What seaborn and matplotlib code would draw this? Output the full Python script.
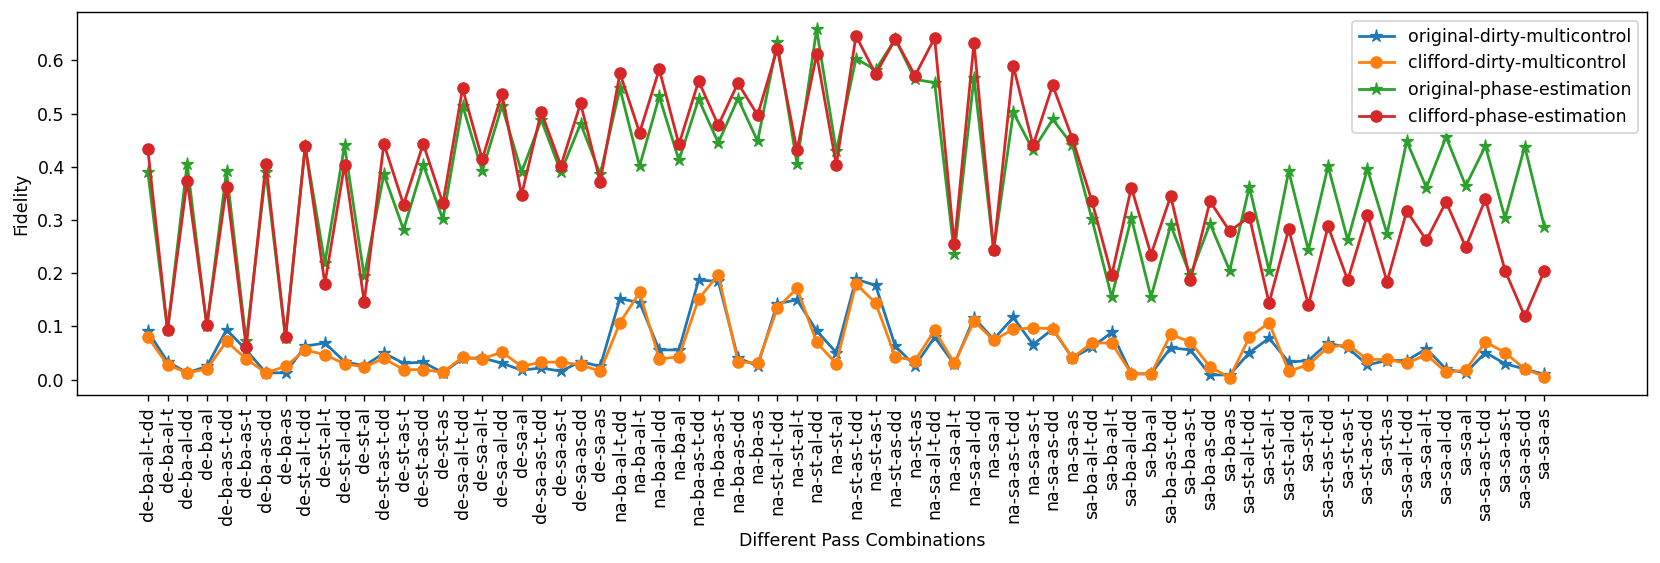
import itertools
import numpy as np
import pandas as pd
import seaborn as sns
import matplotlib.pyplot as plt

#% ===============================
# pass combinations on the x axis
first = ['de', 'na', 'sa']
second = ['ba', 'st', 'sa']
third = ['al', 'as']
suffix = ['-t-dd', '-t', '-dd', '']
passes = [f'{a}-{b}-{c}{d}' for a, b, c, d in itertools.product(first, second, third, suffix)]

# fidelity values
orig_dirty = [0.091, 0.034, 0.013, 0.025, 0.094, 0.056, 0.013, 0.013,
              0.063, 0.069, 0.034, 0.026, 0.050, 0.031, 0.033, 0.013,
              0.040, 0.041, 0.031, 0.018, 0.022, 0.016, 0.034, 0.025,
              0.152, 0.145, 0.056, 0.056, 0.187, 0.185, 0.041, 0.026,
              0.143, 0.150, 0.092, 0.051, 0.189, 0.177, 0.063, 0.026,
              0.080, 0.029, 0.116, 0.076, 0.117, 0.066, 0.095, 0.041,
              0.061, 0.089, 0.011, 0.011, 0.060, 0.056, 0.009, 0.009,
              0.051, 0.078, 0.033, 0.036, 0.069, 0.060, 0.028, 0.036,
              0.036, 0.058, 0.020, 0.013, 0.051, 0.030, 0.020, 0.010]
cliff_dirty = [0.080, 0.028, 0.013, 0.020, 0.072, 0.039, 0.013, 0.025,
               0.056, 0.047, 0.030, 0.024, 0.040, 0.019, 0.019, 0.014,
               0.042, 0.039, 0.052, 0.025, 0.033, 0.033, 0.028, 0.016,
               0.107, 0.164, 0.039, 0.043, 0.152, 0.197, 0.034, 0.031,
               0.134, 0.172, 0.070, 0.030, 0.180, 0.144, 0.043, 0.036,
               0.093, 0.031, 0.110, 0.074, 0.095, 0.097, 0.096, 0.041,
               0.069, 0.069, 0.011, 0.011, 0.085, 0.071, 0.024, 0.004,
               0.080, 0.107, 0.016, 0.028, 0.061, 0.066, 0.038, 0.038,
               0.031, 0.047, 0.014, 0.018, 0.071, 0.051, 0.020, 0.006]
orig_phase = [0.390, 0.093, 0.406, 0.100, 0.392, 0.072, 0.390, 0.078,
              0.439, 0.219, 0.440, 0.194, 0.386, 0.282, 0.404, 0.301,
              0.515, 0.392, 0.514, 0.390, 0.488, 0.390, 0.481, 0.386,
              0.547, 0.401, 0.532, 0.412, 0.527, 0.445, 0.528, 0.448,
              0.634, 0.406, 0.658, 0.429, 0.603, 0.582, 0.640, 0.564,
              0.558, 0.236, 0.567, 0.243, 0.502, 0.431, 0.489, 0.441,
              0.301, 0.155, 0.304, 0.155, 0.290, 0.196, 0.293, 0.205,
              0.362, 0.205, 0.392, 0.243, 0.401, 0.262, 0.396, 0.274,
              0.448, 0.361, 0.456, 0.364, 0.439, 0.303, 0.438, 0.287]
cliff_phase = [0.433, 0.093, 0.374, 0.102, 0.362, 0.061, 0.406, 0.080,
               0.439, 0.180, 0.404, 0.146, 0.443, 0.329, 0.443, 0.331,
               0.547, 0.414, 0.537, 0.347, 0.503, 0.402, 0.519, 0.372,
               0.576, 0.464, 0.583, 0.442, 0.561, 0.478, 0.557, 0.497,
               0.622, 0.431, 0.611, 0.403, 0.646, 0.574, 0.640, 0.571,
               0.642, 0.254, 0.633, 0.243, 0.589, 0.440, 0.553, 0.453,
               0.335, 0.196, 0.361, 0.235, 0.345, 0.187, 0.335, 0.279,
               0.306, 0.144, 0.283, 0.140, 0.288, 0.187, 0.310, 0.184,
               0.317, 0.262, 0.334, 0.249, 0.339, 0.205, 0.119, 0.205]

series = {'original-dirty-multicontrol': orig_dirty,
          'clifford-dirty-multicontrol': cliff_dirty,
          'original-phase-estimation': orig_phase,
          'clifford-phase-estimation': cliff_phase}
markers = ['*', 'o', '*', 'o']
colors = ['tab:blue', 'tab:orange', 'tab:green', 'tab:red']

x = np.arange(len(passes))

#% ===============================
dpi = 125
fig, ax = plt.subplots(figsize=(1660 / dpi, 563 / dpi), dpi=dpi)
fig.subplots_adjust(left=0.0464, right=0.992, bottom=0.2984, top=0.9787)

for (name, vals), m, c in zip(series.items(), markers, colors):
    df = pd.DataFrame({'x': x, 'fidelity': vals})
    sns.lineplot(data=df, x='x', y='fidelity', ax=ax, marker=m, color=c,
                 markeredgecolor=c, markersize=6.5 if m == 'o' else 7.5,
                 linewidth=1.6, label=name, sort=False)

ax.set_xticks(x)
ax.set_xticklabels(passes, rotation=90)
ax.set_xlim(-3.6, 76.2)
ax.set_xlabel('Different Pass Combinations')
ax.set_ylabel('Fidelity')
ax.legend(loc='upper right')

plt.savefig('out.png', dpi=dpi)
